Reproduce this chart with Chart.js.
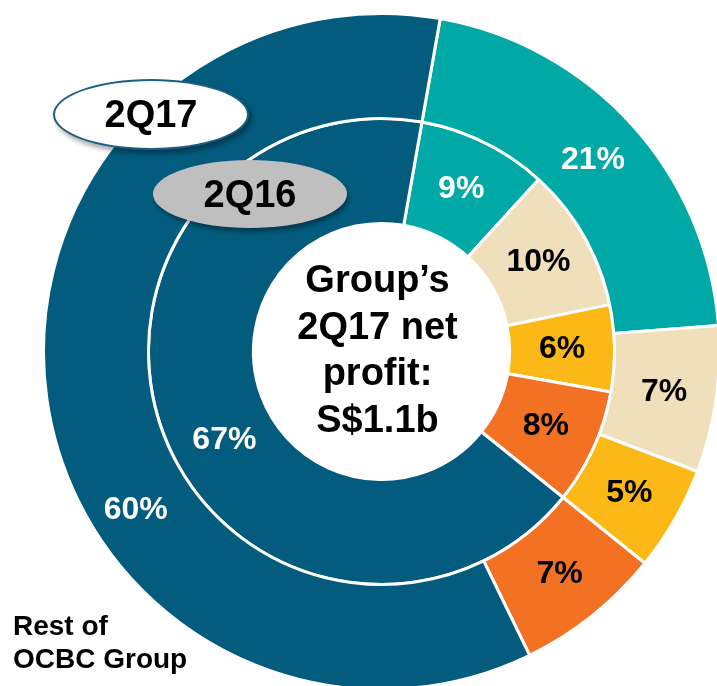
<!DOCTYPE html>
<html>
<head>
<title>Group's 2Q17 net profit</title>
<script src="https://cdn.jsdelivr.net/npm/chart.js"></script>
<style>
html, body { margin: 0; padding: 0; background: #fff; overflow: hidden; }
body { width: 717px; height: 686px; position: relative; font-family: "Liberation Sans", Arial, sans-serif; }
.chart-box { position: absolute; left: 42px; top: 12px; width: 679px; height: 679px; }
.pill { position: absolute; box-sizing: border-box; border-radius: 50%; font-weight: bold; font-size: 38px;
  display: flex; align-items: center; justify-content: center; color: #000; }
#p17 { left: 53px; top: 79px; width: 196px; height: 71px; background: #fff; border: 2px solid #1b5f82;
  box-shadow: 3px 4px 5px rgba(0,0,0,0.35); }
#p16 { left: 153px; top: 160px; width: 194px; height: 68px; background: #bfbfbf;
  box-shadow: 2px 4px 4px rgba(0,0,0,0.35); }
.note { position: absolute; left: 13px; top: 609px; font-weight: bold; font-size: 28px; line-height: 33px; color: #000; }
</style>
</head>
<body>
<div class="chart-box"><canvas id="ringChart"></canvas></div>
<div class="pill" id="p17">2Q17</div>
<div class="pill" id="p16">2Q16</div>
<div class="note">Rest of<br>OCBC Group</div>
<script>
// segments, clockwise from the top
const segments = ['Segment A', 'Segment B', 'Segment C', 'Segment D', 'Rest of OCBC Group'];
const share2Q17 = [21, 7, 5, 7, 60];   // outer ring
const share2Q16 = [9, 10, 6, 8, 67];   // inner ring
const centreLines = ['Group\u2019s', '2Q17 net', 'profit:', 'S$1.1b'];

const colours = ['#01a9a6', '#f0dfbb', '#fbb817', '#f27123', '#035b7e'];
const labelColours = ['#fff', '#000', '#000', '#000', '#fff'];
// where along each arc the label sits (0 = start, 1 = end)
const labelAt = [[0.5, 0.5, 0.5, 0.5, 0.385], [0.5, 0.5, 0.5, 0.5, 0.463]];

const arcLabels = {
  id: 'arcLabels',
  afterDatasetsDraw(chart) {
    const ctx = chart.ctx;
    ctx.save();
    ctx.font = 'bold 32px "Liberation Sans", Arial, sans-serif';
    ctx.textAlign = 'center';
    ctx.textBaseline = 'middle';
    chart.data.datasets.forEach((ds, di) => {
      const meta = chart.getDatasetMeta(di);
      meta.data.forEach((arc, i) => {
        const p = arc.getProps(['x', 'y', 'startAngle', 'endAngle', 'innerRadius', 'outerRadius'], true);
        const a = p.startAngle + (p.endAngle - p.startAngle) * labelAt[di][i];
        const r = (p.innerRadius + p.outerRadius) / 2 + (i === 4 && di === 0 ? 7 : 0);
        ctx.fillStyle = labelColours[i];
        ctx.fillText(ds.data[i] + '%', p.x + Math.cos(a) * r, p.y + Math.sin(a) * r);
      });
    });
    // centre text
    const arc0 = chart.getDatasetMeta(0).data[0];
    ctx.fillStyle = '#000';
    ctx.font = 'bold 38px "Liberation Sans", Arial, sans-serif';
    centreLines.forEach((t, i) => {
      ctx.fillText(t, arc0.x - 4, arc0.y + (i - 1.5) * 46.5);
    });
    ctx.restore();
  }
};

new Chart(document.getElementById('ringChart'), {
  type: 'doughnut',
  data: {
    labels: segments,
    datasets: [
      { label: '2Q17', data: share2Q17, backgroundColor: colours, borderColor: '#fff', borderWidth: 3 },
      { label: '2Q16', data: share2Q16, backgroundColor: colours, borderColor: '#fff', borderWidth: 3 }
    ]
  },
  options: {
    responsive: true,
    maintainAspectRatio: false,
    animation: false,
    rotation: 10,
    cutout: '37.9%',
    layout: { padding: 0 },
    plugins: {
      legend: { display: false },
      tooltip: { enabled: false }
    }
  },
  plugins: [arcLabels]
});
</script>
</body>
</html>
